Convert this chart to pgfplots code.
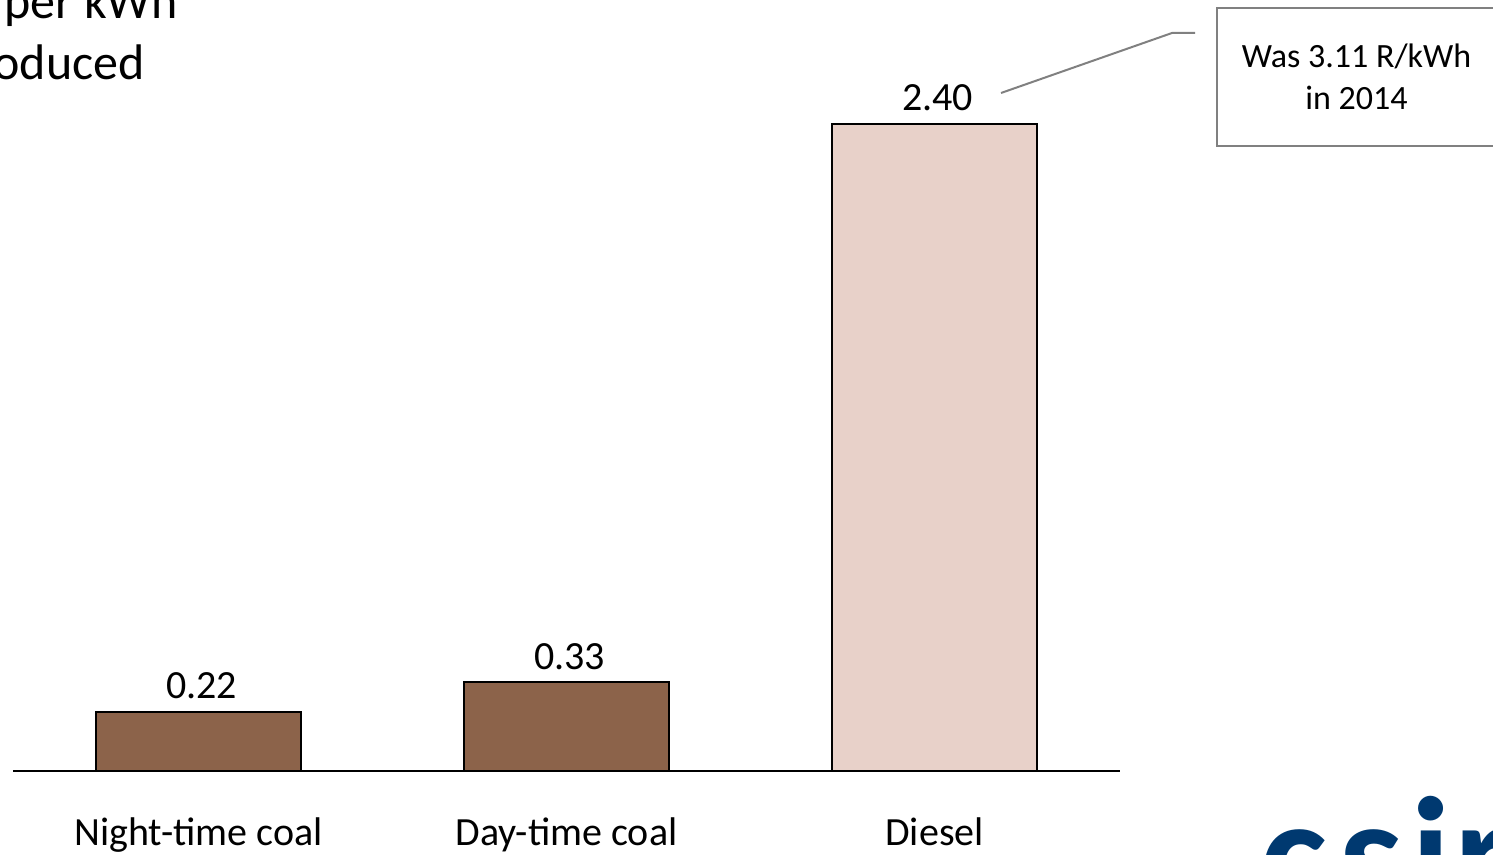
\documentclass[border=0pt]{standalone}
\usepackage{fontspec}
\setmainfont{Carlito}
\usepackage{pgfplots}
\pgfplotsset{compat=1.18}
\definecolor{coalbrown}{RGB}{140,99,74}
\definecolor{dieselpink}{RGB}{232,209,201}
\definecolor{callgray}{RGB}{128,128,128}
\definecolor{csirblue}{RGB}{0,57,112}
\begin{document}
\begin{tikzpicture}
\path[use as bounding box, clip] (0pt,0pt) rectangle (746.5pt,-427.5pt);
\begin{axis}[
  at={(6.5pt,-385.5pt)}, anchor=south west,
  scale only axis, width=553.5pt, height=323.5pt,
  xmin=-0.504, xmax=2.504, ymin=0, ymax=2.4,
  clip=false,
  hide y axis,
  axis x line*=bottom,
  axis line style={black, line width=0.75pt, -},
  xtick={0,1,2},
  xticklabels={Night-time coal, Day-time coal, Diesel},
  major tick length=0pt,
  xticklabel style={font=\fontsize{20}{24}\selectfont, anchor=base, yshift=-37pt, inner sep=0pt},
  /pgf/number format/assume math mode=true,
  nodes near coords={\pgfmathprintnumber[fixed,fixed zerofill,precision=2]{\pgfplotspointmeta}},
  every node near coord/.append style={anchor=base, yshift=6.5pt, xshift=1.5pt, inner sep=0pt, font=\fontsize{20}{24}\selectfont, text=black},
]
\addplot[ybar, bar width=102.5pt, bar shift=0pt, fill=coalbrown, draw=black, line width=1pt]
  coordinates {(0,0.22) (1,0.33)};
\addplot[ybar, bar width=102.5pt, bar shift=0pt, fill=dieselpink, draw=black, line width=1pt]
  coordinates {(2,2.40)};
\end{axis}
% title (cut off)
\node[anchor=base east, inner sep=0pt, font=\fontsize{25}{30}\selectfont] at (89pt,-9.5pt) {per kWh};
\node[anchor=base east, inner sep=0pt, font=\fontsize{25}{30}\selectfont] at (72.5pt,-40pt) {produced};
% callout
\draw[callgray, line width=1pt] (500.5pt,-46.5pt) -- (586pt,-16.5pt) -- (597.5pt,-16.5pt);
\draw[callgray, line width=1pt] (608.5pt,-4pt) rectangle (748pt,-73pt);
\node[anchor=base, inner sep=0pt, font=\fontsize{17}{20}\selectfont] at (678.25pt,-34pt) {Was 3.11 R/kWh};
\node[anchor=base, inner sep=0pt, font=\fontsize{17}{20}\selectfont] at (678.25pt,-55pt) {in 2014};
% logo (cut off)
\node[anchor=base west, inner sep=0pt, font=\fontsize{80}{80}\selectfont\bfseries, text=csirblue] at (630pt,-454pt) {c\kern6pt s\kern4pt i\kern2pt r};
\end{tikzpicture}
\end{document}
